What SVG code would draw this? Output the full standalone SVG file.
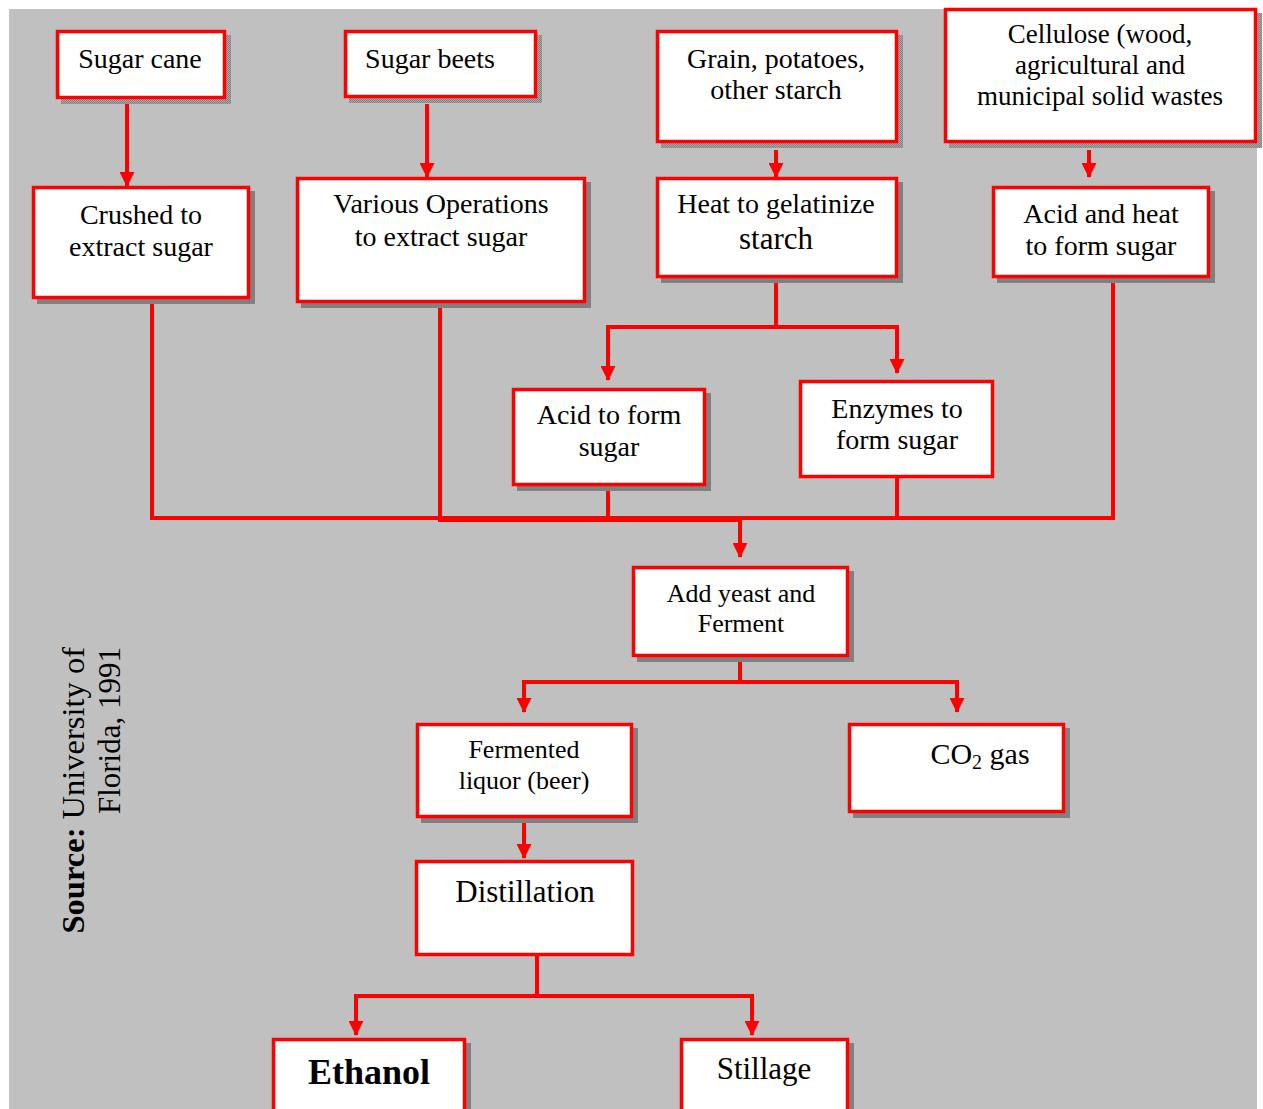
<svg xmlns="http://www.w3.org/2000/svg" width="1263" height="1109" viewBox="0 0 1263 1109">
<style>
.box{fill:#fff;stroke:#ff0000;stroke-width:3.5}
.sh{fill:#808080}
.shd{fill:url(#dith)}
.t{font-family:"Liberation Serif","Times New Roman",serif;font-size:28px;fill:#000;text-anchor:middle}
.ln{fill:none;stroke:#ff0000;stroke-width:4}
.ar{fill:none;stroke:#ff0000;stroke-width:4;marker-end:url(#ah)}
</style>
<defs>
<marker id="ah" markerUnits="userSpaceOnUse" markerWidth="15" markerHeight="15" refX="14" refY="7.5" orient="auto" viewBox="0 0 15 15">
<path d="M0,0 L15,7.5 L0,15 z" fill="#ff0000"/>
</marker>
<pattern id="dith" width="2" height="2" patternUnits="userSpaceOnUse">
<rect width="2" height="2" fill="#a8a8a8"/>
<rect width="1" height="1" fill="#808080"/>
<rect x="1" y="1" width="1" height="1" fill="#808080"/>
</pattern>
</defs>
<rect x="9" y="9" width="1248" height="1100" fill="#c0c0c0"/>

<g id="connectors">
<path class="ar" d="M127,104 V186"/>
<path class="ar" d="M427,104 V177"/>
<path class="ar" d="M776,150 V177"/>
<path class="ar" d="M1089,150 V177"/>
<path class="ln" d="M776,278 V327"/>
<path class="ln" d="M606,327 H899"/>
<path class="ar" d="M608,327 V380"/>
<path class="ar" d="M897,327 V373"/>
<path class="ln" d="M152,299 V518 H742"/>
<path class="ln" d="M440,303 V520 H742"/>
<path class="ln" d="M608,486 V518"/>
<path class="ln" d="M897,478 V518"/>
<path class="ln" d="M1113,278 V518 H740"/>
<path class="ar" d="M740,518 V557"/>
<path class="ln" d="M740,657 V682"/>
<path class="ln" d="M522,682 H959"/>
<path class="ar" d="M524,682 V712"/>
<path class="ar" d="M957,682 V712"/>
<path class="ar" d="M524,818 V858"/>
<path class="ln" d="M537,956 V996"/>
<path class="ln" d="M354,996 H754"/>
<path class="ar" d="M356,996 V1035"/>
<path class="ar" d="M752,996 V1035"/>
</g>

<g id="sugar-cane">
<rect class="shd" x="61" y="35" width="170" height="69"/>
<rect class="box" x="57.5" y="31.5" width="167" height="66"/>
<text class="t" x="140" y="68">Sugar cane</text>
</g>
<g id="crushed">
<rect class="sh" x="37" y="191" width="218" height="113"/>
<rect class="box" x="33.5" y="187.5" width="215" height="110"/>
<text class="t" x="141" y="224">Crushed to</text>
<text class="t" x="141" y="256">extract sugar</text>
</g>
<g id="sugar-beets">
<rect class="shd" x="349" y="35" width="193" height="68"/>
<rect class="box" x="345.5" y="31.5" width="190" height="65"/>
<text class="t" x="430" y="68">Sugar beets</text>
</g>
<g id="various">
<rect class="sh" x="301" y="182" width="290" height="126"/>
<rect class="box" x="297.5" y="178.5" width="287" height="123"/>
<text class="t" x="441" y="213">Various Operations</text>
<text class="t" x="441" y="246">to extract sugar</text>
</g>
<g id="grain">
<rect class="shd" x="661" y="35" width="242" height="113"/>
<rect class="box" x="657.5" y="31.5" width="239" height="110"/>
<text class="t" x="776" y="68">Grain, potatoes,</text>
<text class="t" x="776" y="99">other starch</text>
</g>
<g id="heat">
<rect class="sh" x="661" y="182" width="242" height="101"/>
<rect class="box" x="657.5" y="178.5" width="239" height="98"/>
<text class="t" x="776" y="213" font-size="27">Heat to gelatinize</text>
<text class="t" x="776" y="249" style="font-size:31px">starch</text>
</g>
<g id="cellulose">
<rect class="shd" x="949" y="13" width="313" height="135"/>
<rect class="box" x="945.5" y="9.5" width="310" height="132"/>
<text class="t" x="1100" y="43" style="font-size:27px">Cellulose (wood,</text>
<text class="t" x="1100" y="74" style="font-size:27px">agricultural and</text>
<text class="t" x="1100" y="105" style="font-size:27px">municipal solid wastes</text>
</g>
<g id="acid-heat">
<rect class="sh" x="997" y="191" width="218" height="92"/>
<rect class="box" x="993.5" y="187.5" width="215" height="89"/>
<text class="t" x="1101" y="223">Acid and heat</text>
<text class="t" x="1101" y="255">to form sugar</text>
</g>
<g id="acid-form">
<rect class="sh" x="517" y="393" width="194" height="98"/>
<rect class="box" x="513.5" y="389.5" width="191" height="95"/>
<text class="t" x="609" y="424">Acid to form</text>
<text class="t" x="609" y="456">sugar</text>
</g>
<g id="enzymes">
<rect class="box" x="800.5" y="381.5" width="192" height="95"/>
<text class="t" x="897" y="418">Enzymes to</text>
<text class="t" x="897" y="449">form sugar</text>
</g>
<g id="yeast">
<rect class="sh" x="637" y="571" width="217" height="91"/>
<rect class="box" x="633.5" y="567.5" width="214" height="88"/>
<text class="t" x="741" y="602" style="font-size:26px">Add yeast and</text>
<text class="t" x="741" y="632" style="font-size:26px">Ferment</text>
</g>
<g id="fermented">
<rect class="sh" x="421" y="728" width="217" height="95"/>
<rect class="box" x="417.5" y="724.5" width="214" height="92"/>
<text class="t" x="524" y="758" style="font-size:26px">Fermented</text>
<text class="t" x="524" y="789" style="font-size:26px">liquor (beer)</text>
</g>
<g id="co2">
<rect class="sh" x="853" y="728" width="217" height="90"/>
<rect class="box" x="849.5" y="724.5" width="214" height="87"/>
<text class="t" x="980" y="764" style="font-size:30px">CO<tspan style="font-size:20px" dy="5">2</tspan><tspan dy="-5"> gas</tspan></text>
</g>
<g id="distillation">
<rect class="box" x="416.5" y="861.5" width="216" height="93"/>
<text class="t" x="525" y="902" style="font-size:31px">Distillation</text>
</g>
<g id="ethanol">
<rect class="sh" x="277" y="1043" width="194" height="80"/>
<rect class="box" x="273.5" y="1039.5" width="191" height="80"/>
<text class="t" x="369" y="1084" style="font-size:36px;font-weight:bold">Ethanol</text>
</g>
<g id="stillage">
<rect class="sh" x="685" y="1043" width="169" height="80"/>
<rect class="box" x="681.5" y="1039.5" width="166" height="80"/>
<text class="t" x="764" y="1079" style="font-size:31px">Stillage</text>
</g>
<g id="source">
<text font-family="'Liberation Serif','Times New Roman',serif" font-size="32.5" text-anchor="end" transform="translate(84,647) rotate(-90)"><tspan font-weight="bold">Source:</tspan> University of</text>
<text font-family="'Liberation Serif','Times New Roman',serif" font-size="31" text-anchor="end" transform="translate(120,647) rotate(-90)">Florida, 1991</text>
</g>
</svg>
